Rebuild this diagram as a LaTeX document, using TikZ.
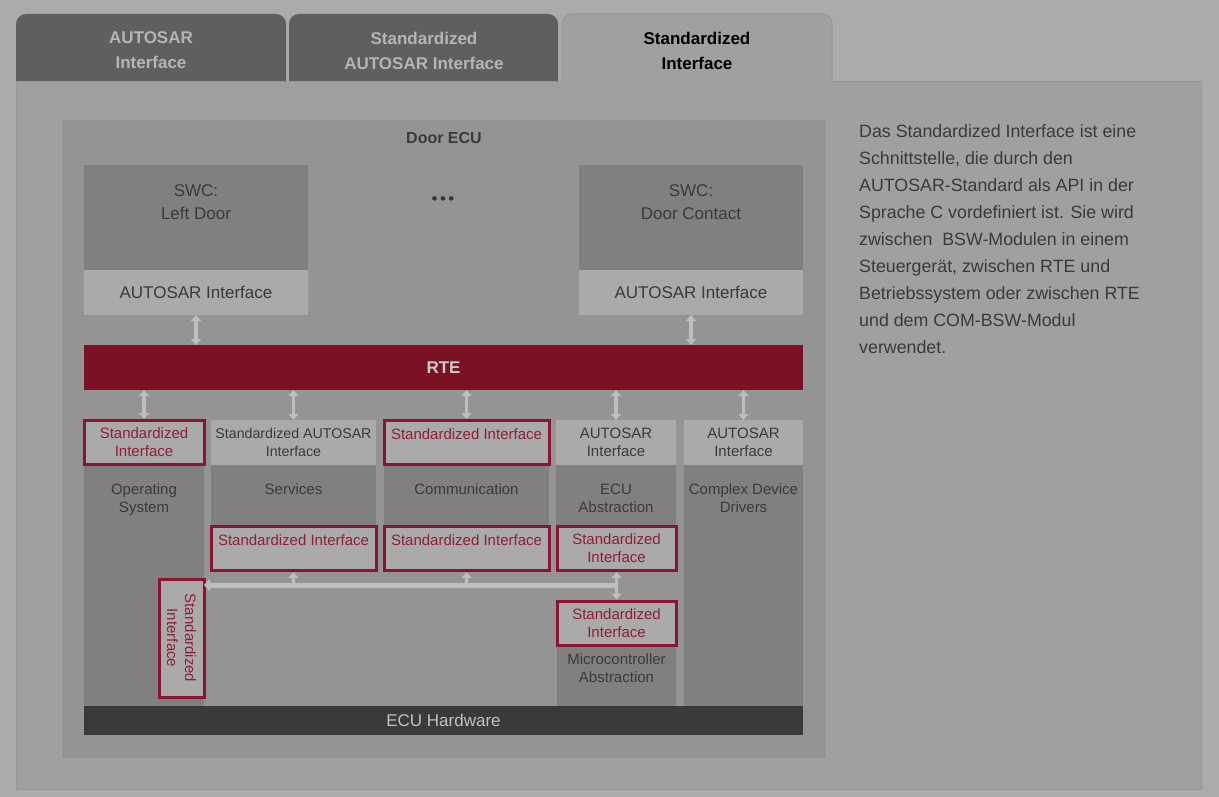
\documentclass[tikz,border=0pt]{standalone}
\usepackage{fontspec}
\setmainfont{Liberation Sans}
\usetikzlibrary{arrows.meta}
\definecolor{pagebg}{HTML}{ABABAB}
\definecolor{panelc}{HTML}{A0A0A0}
\definecolor{panelline}{HTML}{979797}
\definecolor{tabdark}{HTML}{5F5F5F}
\definecolor{tabtxt}{HTML}{B5B5B5}
\definecolor{ecuc}{HTML}{949494}
\definecolor{darkbody}{HTML}{808080}
\definecolor{lightbox}{HTML}{AAAAAA}
\definecolor{txt}{HTML}{3A3A3A}
\definecolor{rtec}{HTML}{7B1224}
\definecolor{rtetxt}{HTML}{CACACA}
\definecolor{redline}{HTML}{8A1530}
\definecolor{redtxt}{HTML}{8F1F37}
\definecolor{arrowc}{HTML}{BEBEBE}
\definecolor{hwc}{HTML}{3A3A3A}
\definecolor{hwtxt}{HTML}{C2C2C2}
\begin{document}
\begin{tikzpicture}[x=1pt,y=-1pt,
  box/.style={rectangle, inner sep=0pt, outer sep=0pt, anchor=north west, text=txt},
  dark/.style={box, fill=darkbody},
  light/.style={box, fill=lightbox},
  sibox/.style={box, fill=lightbox, draw=redline, line width=3pt, text=redtxt},
  fs/.style={font=\fontsize{15pt}{18pt}\selectfont},
  fm/.style={font=\fontsize{17pt}{23pt}\selectfont},
  toplab/.style={inner sep=0pt, anchor=north, align=center, text=txt, fs},
  tab/.style={box, rounded corners=10pt, minimum height=78pt},
  tabtext/.style={inner sep=0pt, align=center, font=\fontsize{17pt}{25pt}\selectfont\bfseries},
  dbl/.style={draw=arrowc, line width=3.5pt, {Triangle[width=10pt,length=6pt]}-{Triangle[width=10pt,length=6pt]}},
  upar/.style={draw=arrowc, line width=3.5pt, -{Triangle[width=10pt,length=6pt]}},
  bus/.style={draw=arrowc, line width=5pt, -{Triangle[width=12pt,length=6pt]}}
]
\useasboundingbox[fill=pagebg] (0,0) rectangle (1219,797);

% tabs
\node[tab, fill=tabdark, minimum width=270pt] (tab1) at (16,14) {};
\node[tab, fill=tabdark, minimum width=269pt] (tab2) at (289,14) {};
\node[tab, fill=panelc, draw=panelline, line width=1pt, minimum width=270pt] (tab3) at (562,14) {};
\node[box, fill=panelc, draw=panelline, line width=1pt, minimum width=1185pt, minimum height=707pt] (panel) at (16,82) {};
\fill[panelc] (563,80.5) rectangle (831,84);
\node[tabtext, text=tabtxt] at (151,50.5) {AUTOSAR\\Interface};
\node[tabtext, text=tabtxt] at (424,50.5) {Standardized\\AUTOSAR Interface};
\node[tabtext, text=black] at (697,50.5) {Standardized\\Interface};

% description
\node[anchor=north west, inner sep=0pt, align=left, font=\fontsize{17.8pt}{27pt}\selectfont, text=txt] (desc) at (859,124.5)
{Das Standardized Interface ist eine\\Schnittstelle, die durch den\\AUTOSAR-Standard als API in der\\Sprache C vordefiniert ist. Sie wird\\zwischen\ \ BSW-Modulen in einem\\Steuergerät, zwischen RTE und\\Betriebssystem oder zwischen RTE\\und dem COM-BSW-Modul\\verwendet.};

% ECU
\node[box, fill=ecuc, minimum width=764pt, minimum height=638pt] (ecu) at (62,120) {};
\node[inner sep=0pt, text=txt, font=\fontsize{16pt}{16pt}\selectfont\bfseries] (ecutitle) at (444,138) {Door ECU};

% SWCs
\node[dark, minimum width=224pt, minimum height=105pt,
  label={[toplab, fm, yshift=-19pt]north:SWC:\\Left Door}] (swc1) at (84,165) {};
\node[light, fm, minimum width=224pt, minimum height=45pt, anchor=north west] (ai1) at (84,270) {AUTOSAR Interface};
\node[dark, minimum width=224pt, minimum height=105pt,
  label={[toplab, fm, yshift=-19pt]north:SWC:\\Door Contact}] (swc2) at (579,165) {};
\node[light, fm, minimum width=224pt, minimum height=45pt] (ai2) at (579,270) {AUTOSAR Interface};
\node[inner sep=0pt, text=txt, font=\fontsize{17pt}{17pt}\selectfont] (dots) at (443,201) {•\kern2.5pt•\kern2.5pt•};

% RTE
\node[box, fill=rtec, text=rtetxt, font=\fontsize{17pt}{17pt}\selectfont\bfseries, minimum width=719pt, minimum height=45pt] (rte) at (84,345) {RTE};

% ECU hardware
\node[box, fill=hwc, text=hwtxt, font=\fontsize{17pt}{17pt}\selectfont, minimum width=719pt, minimum height=29pt] (hw) at (84,706) {ECU Hardware};

% Operating System
\node[dark, minimum width=120pt, minimum height=241pt,
  label={[toplab, yshift=-18.5pt]north:Operating\\System}] (osbody) at (84,465) {};
\node[sibox, fs, align=center, minimum width=120pt, minimum height=44pt] (ostop) at (84,420.5) {Standardized\\Interface};

% Services
\node[light, font=\fontsize{14.2pt}{18pt}\selectfont, align=center, minimum width=165pt, minimum height=45pt] (svctop) at (211,420) {Standardized AUTOSAR\\Interface};
\node[dark, minimum width=165pt, minimum height=61pt,
  label={[toplab, yshift=-18.5pt]north:Services}] (svcbody) at (211,465) {};
\node[sibox, minimum width=165pt, minimum height=44pt,
  label={[toplab, text=redtxt, yshift=-8pt]north:Standardized Interface}] (svcred) at (211,526.5) {};

% Communication
\node[dark, minimum width=165pt, minimum height=61pt,
  label={[toplab, yshift=-18.5pt]north:Communication}] (combody) at (384,465) {};
\node[sibox, minimum width=165pt, minimum height=44pt,
  label={[toplab, text=redtxt, yshift=-8pt]north:Standardized Interface}] (comtop) at (384,420.5) {};
\node[sibox, minimum width=165pt, minimum height=44pt,
  label={[toplab, text=redtxt, yshift=-8pt]north:Standardized Interface}] (comred) at (384,526.5) {};

% ECU Abstraction
\node[light, fs, align=center, minimum width=120pt, minimum height=45pt] (eatop) at (556,420) {AUTOSAR\\Interface};
\node[dark, minimum width=120pt, minimum height=61pt,
  label={[toplab, yshift=-18.5pt]north:ECU\\Abstraction}] (eabody) at (556,465) {};
\node[sibox, fs, align=center, minimum width=119pt, minimum height=44pt] (eared) at (557,526.5) {Standardized\\Interface};

% Microcontroller Abstraction
\node[dark, minimum width=119pt, minimum height=61pt,
  label={[toplab, yshift=-8.5pt]north:Microcontroller\\Abstraction}] (mcbody) at (557,645) {};
\node[sibox, fs, align=center, minimum width=119pt, minimum height=44pt] (mcred) at (557,601) {Standardized\\Interface};

% Complex Device Drivers
\node[light, fs, align=center, minimum width=119pt, minimum height=45pt] (cddtop) at (684,420) {AUTOSAR\\Interface};
\node[dark, minimum width=119pt, minimum height=241pt,
  label={[toplab, yshift=-18.5pt]north:Complex Device\\Drivers}] (cddbody) at (684,465) {};

% vertical standardized interface
\node[sibox, minimum width=45pt, minimum height=118pt,
  label={[rotate=-90, inner sep=0pt, align=center, fs, text=redtxt]center:Standardized\\Interface}] (vsi) at (159,579) {};

% connectors
\draw[dbl] (ai1.south) -- (rte.north -| ai1.south);
\draw[dbl] (ai2.south) -- (rte.north -| ai2.south);
\draw[dbl] (rte.south -| ostop.north) -- ([yshift=1.5pt]ostop.north);
\draw[dbl] (rte.south -| svctop.north) -- (svctop.north);
\draw[dbl] (rte.south -| comtop.north) -- ([yshift=1.5pt]comtop.north);
\draw[dbl] (rte.south -| eatop.north) -- (eatop.north);
\draw[dbl] (rte.south -| cddtop.north) -- (cddtop.north);

\coordinate (busR) at (616,585);
\draw[bus] (busR) -- (busR -| vsi.east);
\draw[upar] (svcred.south |- busR) -- ([yshift=-1.5pt]svcred.south);
\draw[upar] (comred.south |- busR) -- ([yshift=-1.5pt]comred.south);
\draw[dbl] ([yshift=-1.5pt]eared.south) -- ([yshift=1.5pt]mcred.north);
\end{tikzpicture}
\end{document}
